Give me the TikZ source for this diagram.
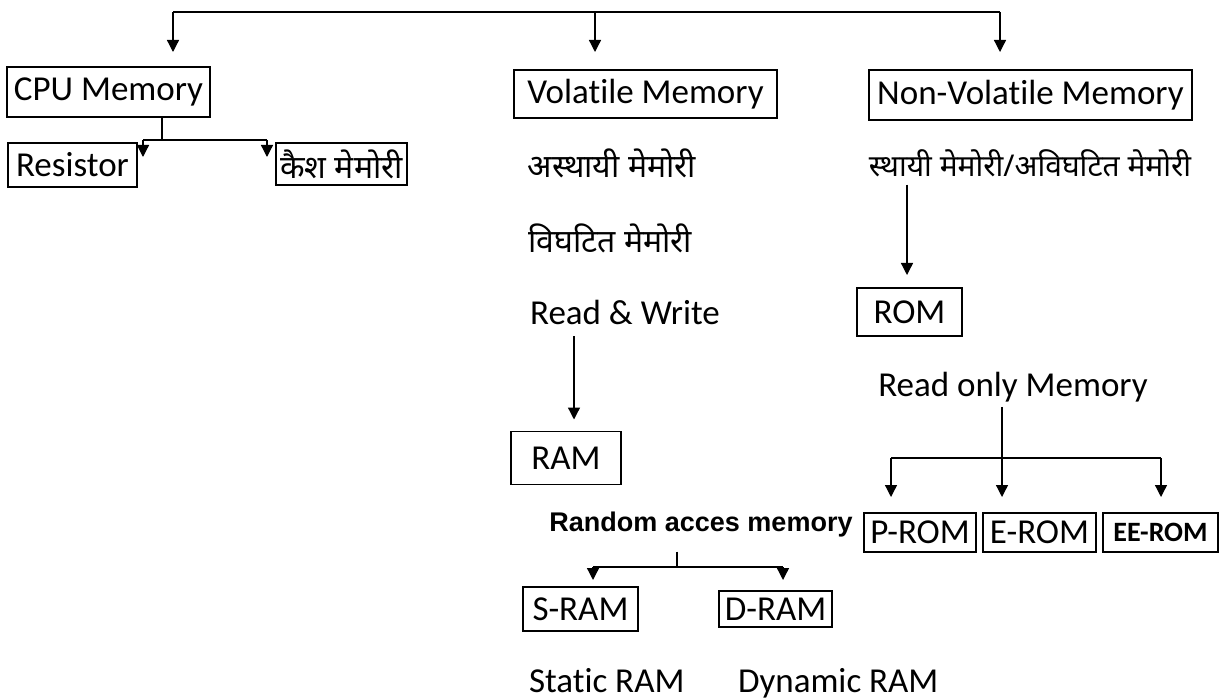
\documentclass[tikz,border=0pt]{standalone}
\usepackage{fontspec}
\setmainfont{Carlito}[Ligatures=CommonOff]
\newfontfamily\dev[Script=Devanagari]{Noto Sans}
\newfontfamily\arialf{Liberation Sans}
\usetikzlibrary{arrows.meta}
\begin{document}
\begin{tikzpicture}[x=1pt,y=-1pt,
  every node/.style={inner sep=0pt,outer sep=0pt},
  lbl/.style={font=\fontsize{35}{40}\selectfont},
  dlbl/.style={font=\dev\fontsize{32}{36}\selectfont},
  box/.style={draw,line width=1.3pt,lbl},
  ln/.style={line width=1.3pt},
  arr/.style={line width=1.3pt,-{Triangle[length=12pt,width=12pt]}}]
\useasboundingbox[fill=white] (0,0) rectangle (1220,700);
% boxes
\node[box,minimum width=203,minimum height=50] (cpu) at (108.5,92) {CPU Memory};
\node[box,minimum width=129,minimum height=44] (res) at (72.5,165) {Resistor};
\node[box,minimum width=131,minimum height=42,font=\dev\fontsize{32}{36}\selectfont] (cache) at (341.5,164) {कैश मेमोरी};
\node[box,minimum width=263,minimum height=48] (vol) at (645.5,94) {Volatile Memory};
\node[box,minimum width=323,minimum height=50] (nvol) at (1030.5,95) {Non-Volatile Memory};
\node[box,minimum width=110,minimum height=53] (ram) at (566,458) {RAM};
\node[box,minimum width=115,minimum height=44] (sram) at (580.5,609) {S-RAM};
\node[box,minimum width=113,minimum height=36] (dram) at (775.5,609) {D-RAM};
\node[box,minimum width=105,minimum height=48] (rom) at (909.5,312) {ROM};
\node[box,minimum width=112,minimum height=39] (prom) at (920,532.5) {P-ROM};
\node[box,minimum width=113,minimum height=39] (erom) at (1039.5,532.5) {E-ROM};
\node[box,minimum width=115,minimum height=39,font=\fontsize{28}{32}\selectfont\bfseries] (eerom) at (1160.5,532.5) {EE-ROM};
% texts
\node[dlbl] (asth) at (612,163) {अस्थायी मेमोरी};
\node[dlbl,font=\dev\fontsize{30}{34}\selectfont] (sth) at (1030,163) {स्थायी मेमोरी/अविघटित मेमोरी};
\node[dlbl] (vigh) at (610,238) {विघटित मेमोरी};
\node[lbl] (rw) at (625,312) {Read \& Write};
\node[font=\arialf\bfseries\fontsize{27}{31}\selectfont] (rnd) at (701,525) {Random acces memory};
\node[lbl] (ronly) at (1013,387) {Read only Memory};
\node[lbl,anchor=base west] (stat) at (529,692) {Static RAM};
\node[lbl,anchor=base west] (dyn) at (738,692) {Dynamic RAM};
% coordinates
\coordinate (tl) at (173,12);
\coordinate (tm) at (595,12);
\coordinate (tr) at (1000,12);
\coordinate (cj) at (162,140);
\coordinate (cl) at (143,140);
\coordinate (cr) at (267,140);
\coordinate (rj) at (677,567);
\coordinate (rl) at (593,567);
\coordinate (rr) at (783,567);
\coordinate (oj) at (1002,458);
\coordinate (ol) at (891,458);
\coordinate (or) at (1161,458);
% top
\draw[ln] (tl) -- (tr);
\draw[arr,shorten >=15pt] (tl) -- (cpu.north -| tl);
\draw[arr,shorten >=18pt] (tm) -- (vol.north -| tm);
\draw[arr,shorten >=18pt] (tr) -- (nvol.north -| tr);
% cpu
\draw[ln] (cpu.south -| cj) -- (cj);
\draw[ln] (cl) -- (cr);
\draw[arr] (cl) -- ++(0,17);
\draw[arr] (cr) -- ++(0,17);
% volatile
\draw[arr,shorten >=12pt] ([yshift=-12pt]rw.south -| 574,0) -- (ram.north -| 574,0);
% random
\draw[ln] ([yshift=-14pt]rnd.south -| rj) -- (rj);
\draw[ln] (rl) -- (rr);
\draw[arr,shorten >=7pt] (rl) -- (sram.north -| rl);
\draw[arr,shorten >=11pt] (rr) -- (dram.north -| rr);
% non-volatile
\draw[arr,shorten >=13pt] ([yshift=-8pt]sth.south -| 907,0) -- (rom.north -| 907,0);
\draw[ln] (ol) -- (or);
\draw[arr,shorten >=16pt] ([yshift=-5pt]ronly.south -| oj) -- (erom.north -| oj);
\draw[arr,shorten >=16pt] (ol) -- (prom.north -| ol);
\draw[arr,shorten >=16pt] (or) -- (eerom.north -| or);
\end{tikzpicture}
\end{document}
